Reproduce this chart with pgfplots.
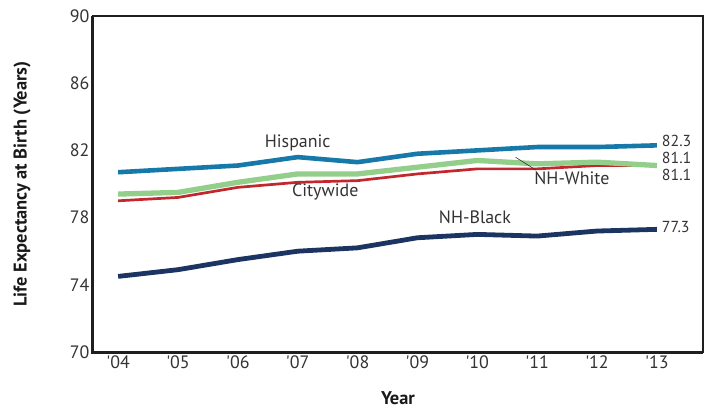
\documentclass[border=0pt]{standalone}
\usepackage{pgfplots}
\pgfplotsset{compat=1.18}
\usepackage{fontspec}
\setmainfont{PT Sans}
\definecolor{hispblue}{HTML}{1679A9}
\definecolor{nhwhite}{HTML}{93CF8A}
\definecolor{citywide}{HTML}{C1272D}
\definecolor{nhblack}{HTML}{1C3461}
\definecolor{txt}{HTML}{333333}
\newcommand{\q}{\textquotesingle}
\begin{document}
\begin{tikzpicture}
\begin{axis}[
  scale only axis,
  width=610bp, height=336bp,
  xmin=2003.58, xmax=2013.77,
  ymin=70, ymax=90,
  ytick={70,74,78,82,86,90},
  xtick={2004,...,2013},
  xticklabels={\q04,\q05,\q06,\q07,\q08,\q09,\q10,\q11,\q12,\q13},
  major tick length=0pt,
  axis line style={line width=2bp, draw=black!88},
  tick label style={font=\fontsize{18}{20}\selectfont, text=txt},
  /pgf/number format/assume math mode=true,
  xlabel={\textbf{Year}},
  ylabel={\textbf{Life Expectancy at Birth (Years)}},
  label style={font=\fontsize{18.5}{20}\selectfont, text=black!90},
  ylabel style={at={(axis description cs:-0.1164,0.5)}, anchor=center},
  xlabel style={at={(axis description cs:0.5,-0.137)}, anchor=center},
  clip=false,
]
\addplot[citywide, line width=2.7bp] coordinates {(2004,79.0) (2005,79.2) (2006,79.8) (2007,80.1) (2008,80.2) (2009,80.6) (2010,80.9) (2011,80.9) (2012,81.1) (2013,81.1)};
\addplot[nhwhite, line width=5.3bp] coordinates {(2004,79.4) (2005,79.5) (2006,80.1) (2007,80.6) (2008,80.6) (2009,81.0) (2010,81.4) (2011,81.2) (2012,81.3) (2013,81.1)};
\addplot[hispblue, line width=4.6bp] coordinates {(2004,80.7) (2005,80.9) (2006,81.1) (2007,81.6) (2008,81.3) (2009,81.8) (2010,82.0) (2011,82.2) (2012,82.2) (2013,82.3)};
\addplot[nhblack, line width=4.8bp] coordinates {(2004,74.5) (2005,74.9) (2006,75.5) (2007,76.0) (2008,76.2) (2009,76.8) (2010,77.0) (2011,76.9) (2012,77.2) (2013,77.3)};
\draw[line width=3bp, black!88] (rel axis cs:0,1) -- (rel axis cs:0,0) -- (rel axis cs:1,0);
\coordinate (bl) at (rel axis cs:0,0);
\coordinate (tr) at (rel axis cs:1,1);
\begin{scope}[every node/.style={font=\fontsize{18}{20}\selectfont, text=txt}]
\node at (axis cs:2007,82.46) {Hispanic};
\node at (axis cs:2007.46,79.54) {Citywide};
\node at (axis cs:2009.96,78.05) {NH-Black};
\node at (axis cs:2011.58,80.34) {NH-White};
\draw[line width=0.6bp, txt] (axis cs:2010.64,81.59) -- (axis cs:2010.98,80.83);
\end{scope}
\begin{scope}[every node/.style={font=\fontsize{16}{17}\selectfont, text=txt, anchor=west, inner sep=0pt}]
\node at (axis cs:2013.08,82.56) {82.3};
\node at (axis cs:2013.08,81.56) {81.1};
\node at (axis cs:2013.08,80.56) {81.1};
\node at (axis cs:2013.08,77.46) {77.3};
\end{scope}
\end{axis}
\pgfresetboundingbox
\path ([shift={(-93bp,-59bp)}]bl) rectangle ([shift={(2bp,16bp)}]tr);
\end{tikzpicture}
\end{document}
